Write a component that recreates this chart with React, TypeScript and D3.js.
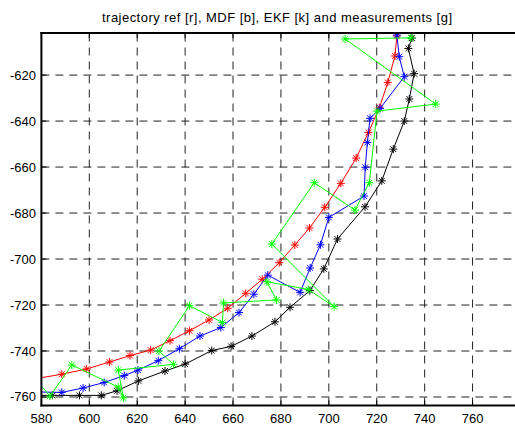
import React from "react";
import * as d3 from "d3";

// reference trajectory [r]
const refX = [577.7, 588.5, 598.9, 608.4, 617.0, 625.6, 633.7, 641.8, 650.0, 657.8, 665.3, 672.2, 679.3, 685.8, 691.9, 698.3, 705.0, 711.4, 716.5, 721.1, 724.6, 727.6, 728.4];
const refY = [-752.0, -750.1, -747.8, -744.8, -742.0, -739.6, -735.5, -731.2, -726.5, -721.4, -714.9, -708.8, -701.6, -693.9, -686.5, -677.5, -667.1, -656.1, -645.0, -634.2, -623.2, -611.7, -603.0];

// MDF estimate [b]
const mdfX = [577.7, 588.5, 597.4, 606.2, 614.6, 620.3, 628.8, 637.6, 646.2, 654.9, 662.5, 668.7, 674.5, 688.0, 692.2, 696.5, 700.0, 714.7, 715.2, 716.1, 717.2, 721.4, 731.5, 729.4, 728.4];
const mdfY = [-757.8, -758.0, -756.1, -753.7, -750.7, -748.3, -744.2, -739.0, -733.5, -729.8, -723.3, -715.3, -707.0, -714.5, -703.9, -693.8, -681.9, -672.6, -660.1, -649.3, -638.8, -634.5, -620.7, -612.0, -602.6];

// EKF estimate [k]
const ekfX = [577.7, 584.6, 595.9, 605.0, 611.6, 620.5, 631.6, 640.0, 651.1, 659.2, 667.9, 677.5, 683.8, 692.1, 697.9, 703.6, 715.1, 722.1, 726.9, 731.5, 733.6, 735.6, 733.2, 734.7];
const ekfY = [-759.3, -759.3, -759.3, -759.3, -757.3, -753.0, -748.7, -745.7, -739.8, -738.0, -733.5, -727.3, -721.0, -713.7, -704.3, -691.3, -677.3, -666.0, -652.2, -640.0, -630.4, -619.4, -608.4, -603.9];

// measurements [g]
const measX = [577.8, 583.6, 592.7, 612.1, 614.2, 612.1, 635.1, 629.1, 641.8, 655.6, 656.0, 678.2, 674.1, 691.4, 702.2, 676.2, 693.9, 710.9, 716.9, 720.1, 744.6, 706.8, 734.2];
const measY = [-752.6, -759.6, -746.1, -755.7, -760.4, -748.3, -745.8, -740.0, -720.3, -727.6, -719.1, -717.8, -709.9, -713.2, -720.7, -693.5, -666.8, -678.7, -666.8, -635.7, -632.6, -604.3, -603.8];

const xTicks = [580, 600, 620, 640, 660, 680, 700, 720, 740, 760];
const yTicks = [-620, -640, -660, -680, -700, -720, -740, -760];

const W = 515;
const H = 427;
const left = 41.4, right = 514, top = 33, bottom = 405.5;

export default function App() {
  const x = d3.scaleLinear().domain([580, 777.3]).range([left, right]);
  const y = d3.scaleLinear().domain([-763.7, -601.7]).range([bottom, top]);

  const series = [
    { xs: refX, ys: refY, color: "#ff0000" },
    { xs: mdfX, ys: mdfY, color: "#0000ff" },
    { xs: ekfX, ys: ekfY, color: "#000000" },
    { xs: measX, ys: measY, color: "#00ff00" },
  ];

  const line = d3.line<[number, number]>().x(d => x(d[0])).y(d => y(d[1]));

  const star = (cx: number, cy: number, c: string, k: string) => {
    const r = 4, q = 2.9;
    return (
      <path key={k} stroke={c} strokeWidth={1} fill="none"
        d={`M${cx - r},${cy}L${cx + r},${cy}M${cx},${cy - r}L${cx},${cy + r}M${cx - q},${cy - q}L${cx + q},${cy + q}M${cx - q},${cy + q}L${cx + q},${cy - q}`} />
    );
  };

  return (
    <svg width={W} height={H} style={{ position: "absolute", left: 0, top: 0, background: "#fff" }}
      fontFamily="Liberation Sans, Arial, sans-serif">
      <defs>
        <clipPath id="plot">
          <rect x={left} y={top} width={right - left} height={bottom - top} />
        </clipPath>
      </defs>
      <rect width={W} height={H} fill="#fff" />
      <text x={277} y={22} fontSize={13} textAnchor="middle" textLength={350} lengthAdjust="spacing">
        trajectory ref [r], MDF [b], EKF [k] and measurements [g]
      </text>
      {/* grid */}
      <g stroke="#222" strokeWidth={1} strokeDasharray="8,6">
        {xTicks.slice(1).map(t => (
          <line key={"gx" + t} x1={x(t)} x2={x(t)} y1={bottom} y2={top} />
        ))}
        {yTicks.map(t => (
          <line key={"gy" + t} x1={left} x2={right} y1={y(t)} y2={y(t)} />
        ))}
      </g>
      {/* ticks */}
      <g stroke="#000" strokeWidth={1}>
        {xTicks.map(t => (
          <g key={"tx" + t}>
            <line x1={x(t)} x2={x(t)} y1={bottom} y2={bottom - 5} />
            <line x1={x(t)} x2={x(t)} y1={top} y2={top + 5} />
          </g>
        ))}
        {yTicks.map(t => (
          <line key={"ty" + t} x1={left} x2={left + 5} y1={y(t)} y2={y(t)} />
        ))}
      </g>
      <g clipPath="url(#plot)">
        {series.map((s, i) => {
          const pts = s.xs.map((v, j) => [v, s.ys[j]] as [number, number]);
          return (
            <g key={"s" + i}>
              <path d={line(pts) || ""} stroke={s.color} strokeWidth={1} fill="none" />
              {pts.map((p, j) => star(x(p[0]), y(p[1]), s.color, `m${i}-${j}`))}
            </g>
          );
        })}
      </g>
      {/* box */}
      <g stroke="#000" strokeWidth={2}>
        <line x1={left} x2={left} y1={top - 1} y2={bottom + 1} />
        <line x1={left - 1} x2={right + 1} y1={bottom} y2={bottom} />
        <line x1={left - 1} x2={right + 1} y1={top} y2={top} />
      </g>
      {xTicks.map(t => (
        <text key={"lx" + t} x={x(t)} y={423} fontSize={13} textAnchor="middle">{t}</text>
      ))}
      {yTicks.map(t => (
        <text key={"ly" + t} x={36} y={y(t) + 4.5} fontSize={13} textAnchor="end">{t}</text>
      ))}
    </svg>
  );
}
